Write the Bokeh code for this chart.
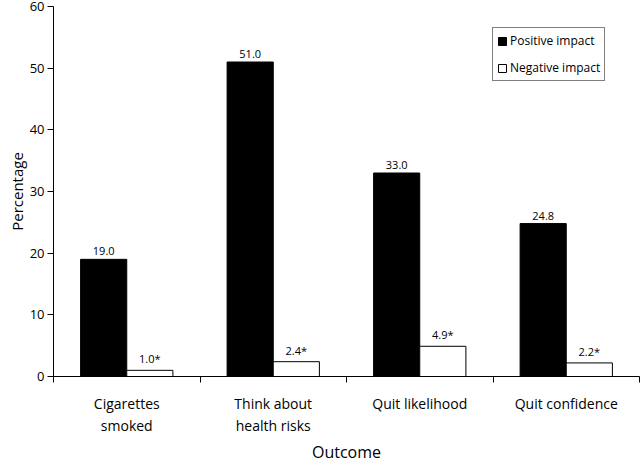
import numpy as np
from bokeh.plotting import figure
from bokeh.models import (ColumnDataSource, FixedTicker, Range1d, Legend, LegendItem, LabelSet, Title)
from bokeh.core.properties import value
from bokeh.transform import dodge
from bokeh.embed import file_html
from bokeh.resources import INLINE

categories = ["Cigarettes\nsmoked", "Think about\nhealth risks", "Quit likelihood", "Quit confidence"]
positive = [19.0, 51.0, 33.0, 24.8]
negative = [1.0, 2.4, 4.9, 2.2]
positive_labels = ["19.0", "51.0", "33.0", "24.8"]
negative_labels = ["1.0*", "2.4*", "4.9*", "2.2*"]
y_ticks = [0, 10, 20, 30, 40, 50, 60]
x_title = "Outcome"
y_title = "Percentage"

FONT = "Open Sans"
n = len(categories)
centers = list(np.arange(n) + 0.5)
src = ColumnDataSource(dict(x=centers, pos=positive, neg=negative,
                            pl=positive_labels, nl=negative_labels))

p = figure(width=640, height=462, output_backend="svg", toolbar_location=None,
           x_range=Range1d(0, n), y_range=Range1d(0, 60),
           min_border_left=53, min_border_right=1, min_border_top=6, min_border_bottom=0)
p.outline_line_color = None
p.xgrid.grid_line_color = None
p.ygrid.grid_line_color = None

bw = 0.315
off = bw / 2
r_pos = p.vbar(x=dodge("x", -off, range=p.x_range), top="pos", width=bw, source=src,
               fill_color="black", line_color="black", line_width=1)
r_neg = p.vbar(x=dodge("x", off, range=p.x_range), top="neg", width=bw, source=src,
               fill_color="white", line_color="black", line_width=1)

lab_kw = dict(text_font=value(FONT), text_font_size="11px", text_align="center",
              text_baseline="bottom", y_offset=4, text_color="black")
p.add_layout(LabelSet(x=dodge("x", -off, range=p.x_range), y="pos", text="pl", source=src, **lab_kw))
p.add_layout(LabelSet(x=dodge("x", off, range=p.x_range), y="neg", text="nl", source=src, **lab_kw))

# x axis: labels at category centres, ticks at category boundaries
xa = p.xaxis[0]
xa.ticker = FixedTicker(ticks=centers, minor_ticks=list(np.arange(n + 1)))
xa.major_label_overrides = {float(c): lab for c, lab in zip(centers, categories)}
xa.major_tick_line_color = None
xa.minor_tick_line_color = "black"
xa.minor_tick_in = 0
xa.minor_tick_out = 6
xa.major_label_standoff = 11
xa.major_label_text_font = FONT
xa.major_label_text_font_size = "14px"
xa.major_label_text_color = "black"
xa.axis_line_color = "black"

# x-axis title as a title panel below the axis
p.add_layout(Title(text=x_title, align="center", text_font=FONT, text_font_size="16px",
                   text_font_style="normal", text_color="black", standoff=0, offset=0),
             "below")

ya = p.yaxis[0]
ya.ticker = FixedTicker(ticks=y_ticks, minor_ticks=[])
ya.major_tick_in = 0
ya.major_tick_out = 6
ya.major_tick_line_color = "black"
ya.axis_line_color = "black"
ya.major_label_standoff = 3
ya.major_label_text_font = FONT
ya.major_label_text_font_size = "13px"
ya.major_label_text_color = "black"
ya.axis_label = y_title
ya.axis_label_text_font = FONT
ya.axis_label_text_font_size = "15px"
ya.axis_label_text_font_style = "normal"
ya.axis_label_text_color = "black"
ya.axis_label_standoff = 0

legend = Legend(items=[LegendItem(label="Positive impact", renderers=[r_pos]),
                       LegendItem(label="Negative impact", renderers=[r_neg])],
                location=(439, 295), margin=0)
legend.border_line_color = "black"
legend.border_line_width = 1
legend.label_text_font = FONT
legend.label_text_font_size = "12px"
legend.label_text_color = "black"
legend.glyph_width = 10
legend.glyph_height = 10
legend.label_standoff = 3
legend.spacing = 10
legend.padding = 4
legend.background_fill_alpha = 1
p.add_layout(legend)

open("out.html", "w").write(file_html(p, INLINE))
